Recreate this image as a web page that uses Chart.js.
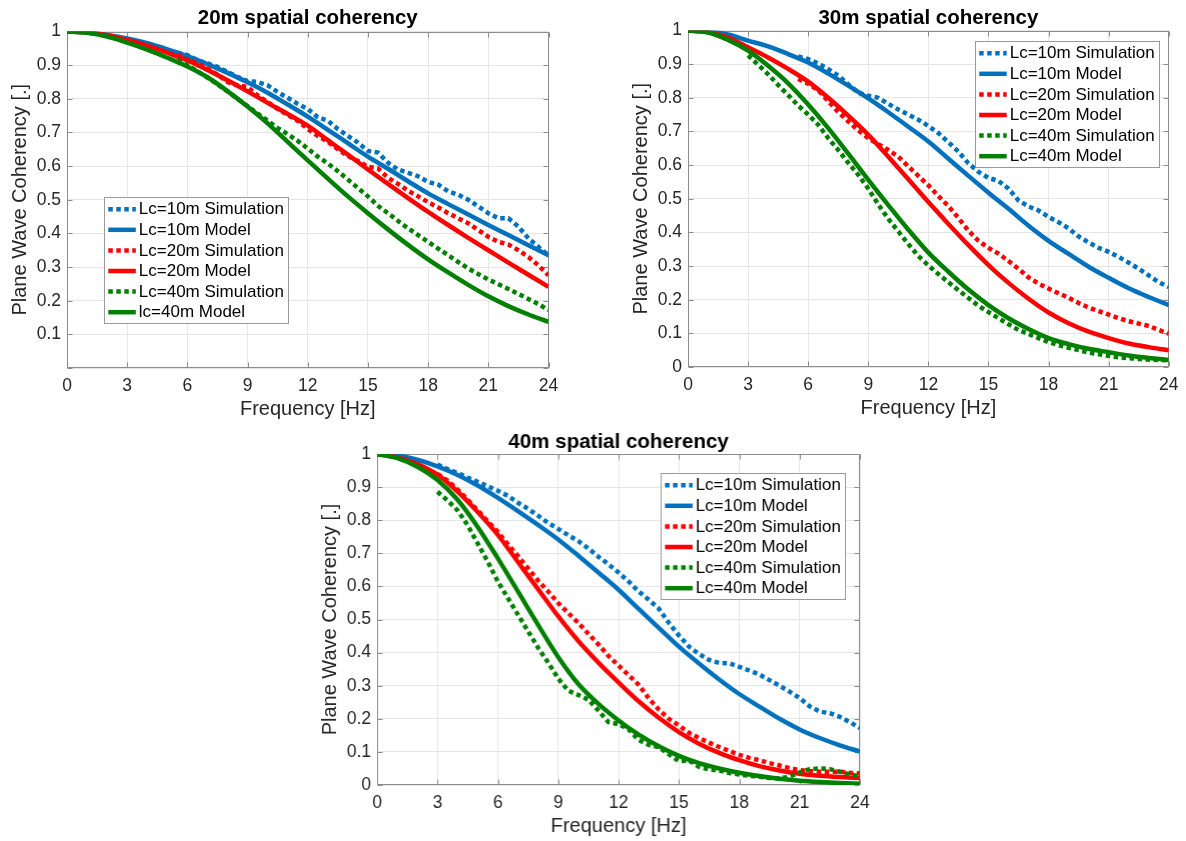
<!DOCTYPE html>
<html>
<head>
<meta charset="utf-8">
<script src="https://cdn.jsdelivr.net/npm/chart.js@4.4.1/dist/chart.umd.min.js"></script>
<style>
html,body{margin:0;padding:0;background:#fff;width:1186px;height:841px;overflow:hidden;position:relative}
canvas{position:absolute}
</style>
</head>
<body>
<canvas id="c20"></canvas>
<canvas id="c30"></canvas>
<canvas id="c40"></canvas>
<script>
// ---------- data ----------
const xTicks = [0,3,6,9,12,15,18,21,24];
const yTicks = [0,0.1,0.2,0.3,0.4,0.5,0.6,0.7,0.8,0.9,1];
const titles = ['20m spatial coherency','30m spatial coherency','40m spatial coherency'];
const xAxisTitle = 'Frequency [Hz]';
const yAxisTitle = 'Plane Wave Coherency [.]';
const seriesLabels = ['Lc=10m Simulation','Lc=10m Model','Lc=20m Simulation','Lc=20m Model','Lc=40m Simulation','Lc=40m Model'];
const seriesLabels20 = ['Lc=10m Simulation','Lc=10m Model','Lc=20m Simulation','Lc=20m Model','Lc=40m Simulation','lc=40m Model'];

const modelFreq = [0,1,2,3,4,5,6,7,8,9,10,11,12,13,14,15,16,17,18,19,20,21,22,23,24];
const simFreqFrom5 = [5.5,6,6.5,7,7.5,8,8.5,9,9.5,10,10.5,11,11.5,12,12.5,13,13.5,14,14.5,15,15.5,16,16.5,17,17.5,18,18.5,19,19.5,20,20.5,21,21.5,22,22.5,23,23.5,24];
const simFreqFrom3 = [3,3.5,4,4.5,5,5.5,6,6.5,7,7.5,8,8.5,9,9.5,10,10.5,11,11.5,12,12.5,13,13.5,14,14.5,15,15.5,16,16.5,17,17.5,18,18.5,19,19.5,20,20.5,21,21.5,22,22.5,23,23.5,24];

// 20m spatial coherency
const sim20_Lc10 = [0.937,0.93,0.915,0.905,0.895,0.88,0.865,0.853,0.85,0.84,0.82,0.803,0.785,0.77,0.745,0.735,0.71,0.69,0.67,0.645,0.64,0.61,0.59,0.58,0.57,0.553,0.545,0.525,0.515,0.5,0.48,0.46,0.445,0.445,0.42,0.385,0.36,0.335];
const model20_Lc10 = [1,0.997,0.99,0.979,0.965,0.947,0.927,0.903,0.877,0.849,0.818,0.783,0.747,0.708,0.668,0.628,0.592,0.555,0.519,0.487,0.456,0.425,0.395,0.365,0.335];
const sim20_Lc20 = [0.93,0.917,0.905,0.89,0.872,0.85,0.84,0.835,0.81,0.79,0.77,0.752,0.735,0.71,0.69,0.672,0.65,0.63,0.615,0.598,0.593,0.565,0.547,0.527,0.51,0.493,0.477,0.46,0.445,0.43,0.41,0.39,0.375,0.367,0.35,0.33,0.305,0.275];
const model20_Lc20 = [1,0.997,0.989,0.975,0.958,0.937,0.914,0.886,0.855,0.822,0.788,0.755,0.72,0.677,0.634,0.59,0.547,0.505,0.464,0.425,0.387,0.35,0.313,0.277,0.241];
const sim20_Lc40 = [0.915,0.9,0.882,0.863,0.843,0.822,0.8,0.778,0.756,0.735,0.713,0.695,0.675,0.652,0.628,0.608,0.585,0.56,0.535,0.51,0.482,0.46,0.437,0.415,0.395,0.375,0.355,0.335,0.315,0.296,0.279,0.263,0.249,0.235,0.22,0.205,0.19,0.172];
const model20_Lc40 = [1,0.996,0.985,0.967,0.946,0.922,0.896,0.864,0.823,0.777,0.727,0.672,0.617,0.563,0.51,0.46,0.412,0.366,0.323,0.284,0.247,0.213,0.184,0.159,0.137];

// 30m spatial coherency
const sim30_Lc10 = [0.923,0.915,0.902,0.885,0.866,0.84,0.815,0.806,0.8,0.782,0.765,0.75,0.735,0.716,0.695,0.668,0.64,0.605,0.58,0.562,0.553,0.53,0.495,0.477,0.465,0.446,0.43,0.412,0.388,0.37,0.354,0.342,0.327,0.31,0.292,0.272,0.252,0.238];
const model30_Lc10 = [1,0.997,0.988,0.97,0.953,0.93,0.905,0.872,0.836,0.798,0.757,0.714,0.67,0.619,0.568,0.518,0.47,0.42,0.375,0.336,0.298,0.265,0.234,0.208,0.184];
const sim30_Lc20 = [0.856,0.842,0.822,0.79,0.758,0.73,0.703,0.68,0.662,0.645,0.625,0.596,0.568,0.54,0.508,0.478,0.443,0.405,0.375,0.354,0.337,0.315,0.292,0.266,0.248,0.233,0.219,0.206,0.19,0.177,0.166,0.156,0.145,0.136,0.129,0.122,0.11,0.099];
const model30_Lc20 = [1,0.995,0.979,0.95,0.92,0.886,0.848,0.8,0.747,0.69,0.625,0.558,0.49,0.425,0.362,0.303,0.25,0.203,0.162,0.13,0.105,0.086,0.07,0.059,0.05];
const sim30_Lc40 = [0.926,0.898,0.87,0.838,0.808,0.777,0.75,0.72,0.68,0.645,0.607,0.571,0.53,0.483,0.44,0.403,0.365,0.33,0.302,0.276,0.252,0.228,0.205,0.182,0.163,0.145,0.127,0.11,0.098,0.086,0.074,0.065,0.057,0.05,0.043,0.038,0.033,0.029,0.026,0.024,0.022,0.021,0.02];
const model30_Lc40 = [1,0.994,0.972,0.94,0.895,0.843,0.78,0.71,0.634,0.556,0.481,0.408,0.34,0.283,0.23,0.184,0.145,0.113,0.086,0.068,0.054,0.044,0.034,0.027,0.021];

// 40m spatial coherency
const sim40_Lc10 = [0.968,0.955,0.943,0.929,0.916,0.903,0.889,0.874,0.853,0.835,0.814,0.792,0.774,0.755,0.737,0.715,0.69,0.667,0.642,0.615,0.585,0.56,0.533,0.49,0.452,0.418,0.396,0.378,0.369,0.368,0.357,0.346,0.334,0.317,0.3,0.282,0.263,0.238,0.222,0.217,0.206,0.19,0.172];
const model40_Lc10 = [1,0.996,0.983,0.963,0.937,0.905,0.868,0.828,0.786,0.742,0.693,0.642,0.59,0.532,0.475,0.418,0.367,0.319,0.275,0.237,0.2,0.168,0.142,0.12,0.101];
const sim40_Lc20 = [0.94,0.92,0.893,0.862,0.83,0.797,0.765,0.728,0.692,0.655,0.618,0.585,0.55,0.52,0.49,0.457,0.425,0.39,0.361,0.332,0.303,0.262,0.228,0.2,0.18,0.158,0.142,0.128,0.115,0.103,0.091,0.082,0.075,0.066,0.059,0.051,0.045,0.042,0.04,0.04,0.04,0.037,0.035];
const model40_Lc20 = [1,0.99,0.97,0.938,0.887,0.825,0.756,0.674,0.592,0.51,0.435,0.37,0.31,0.253,0.203,0.16,0.125,0.097,0.075,0.057,0.044,0.034,0.028,0.024,0.021];
const sim40_Lc40 = [0.886,0.86,0.83,0.785,0.73,0.675,0.615,0.565,0.515,0.465,0.415,0.37,0.322,0.285,0.272,0.258,0.225,0.19,0.184,0.168,0.136,0.121,0.114,0.093,0.072,0.074,0.055,0.047,0.044,0.036,0.032,0.028,0.025,0.021,0.02,0.025,0.038,0.048,0.05,0.048,0.04,0.032,0.025];
const model40_Lc40 = [1,0.988,0.962,0.922,0.862,0.78,0.685,0.585,0.484,0.387,0.305,0.245,0.195,0.152,0.117,0.088,0.066,0.05,0.037,0.027,0.019,0.013,0.009,0.006,0.004];

// ---------- styling / rendering ----------
const FF = "'Liberation Sans', Arial, Helvetica, sans-serif";
const seriesColors = ['#0072BD','#FF0000','#008000'];
const BOX = '#8c8c8c';
const LW = 4.5;
const DOT = [4.5, 3.5];

const framePlugin = {
  id: 'frame',
  beforeDatasetsDraw(chart) {
    const {ctx, chartArea: a, scales: {x, y}} = chart;
    ctx.save();
    ctx.strokeStyle = BOX; ctx.lineWidth = 1;
    const L = Math.round(a.left) + 0.5, T = Math.round(a.top) + 0.5;
    const R = Math.round(a.right) - 0.5, B = Math.round(a.bottom) - 0.5;
    ctx.strokeRect(L, T, R - L, B - T);
    ctx.beginPath();
    const tl = 5;
    xTicks.forEach(v => {
      const px = Math.round(x.getPixelForValue(v)) + 0.5;
      ctx.moveTo(px, B); ctx.lineTo(px, B - tl);
      ctx.moveTo(px, T); ctx.lineTo(px, T + tl);
    });
    yTicks.forEach(v => {
      const py = Math.round(y.getPixelForValue(v)) + 0.5;
      ctx.moveTo(L, py); ctx.lineTo(L + tl, py);
      ctx.moveTo(R, py); ctx.lineTo(R - tl, py);
    });
    ctx.stroke();
    ctx.restore();
  }
};

const boxLegendPlugin = {
  id: 'boxLegend',
  afterDraw(chart, args, o) {
    const ctx = chart.ctx;
    ctx.save();
    ctx.fillStyle = '#fff';
    ctx.fillRect(o.x, o.y, o.w, o.h);
    ctx.strokeStyle = '#9a9a9a'; ctx.lineWidth = 1;
    ctx.strokeRect(Math.round(o.x) + 0.5, Math.round(o.y) + 0.5, Math.round(o.w), Math.round(o.h));
    chart.data.datasets.forEach((ds, i) => {
      const cy = o.y + 12.5 + i * 20.6;
      ctx.strokeStyle = ds.borderColor;
      ctx.lineWidth = LW;
      ctx.lineCap = 'butt';
      ctx.setLineDash(ds.borderDash || []);
      ctx.beginPath();
      ctx.moveTo(o.x + 4, cy); ctx.lineTo(o.x + 31.5, cy);
      ctx.stroke();
      ctx.setLineDash([]);
      ctx.fillStyle = '#000';
      ctx.font = '17px ' + FF;
      ctx.textBaseline = 'middle';
      ctx.textAlign = 'left';
      ctx.fillText(ds.label, o.x + 34.5, cy + 0.5);
    });
    ctx.restore();
  }
};

function pts(xs, ys) { return ys.map((v, i) => ({x: xs[i], y: v})); }

function build(id, geo, title, labels, series, legendPos, hideZero) {
  const cv = document.getElementById(id);
  const cl = geo.left - 67;
  const ct = geo.canvasTop;
  const cw = geo.right + geo.padR - cl;
  const ch = geo.bottom - ct + 57;
  cv.width = cw; cv.height = ch;
  cv.style.left = cl + 'px'; cv.style.top = ct + 'px';
  cv.style.width = cw + 'px'; cv.style.height = ch + 'px';
  const tLine = 23;
  const tTop = Math.max(0, geo.titleY - ct - tLine / 2);
  const tBot = Math.max(0, geo.top - ct - tLine - tTop);

  const datasets = series.map((s, i) => ({
    label: labels[i],
    data: pts(s.x, s.y),
    borderColor: seriesColors[i >> 1],
    backgroundColor: seriesColors[i >> 1],
    borderWidth: LW,
    borderDash: i % 2 === 0 ? DOT : [],
    borderCapStyle: 'butt',
    borderJoinStyle: i % 2 === 0 ? 'miter' : 'round',
    pointRadius: 0,
    pointHoverRadius: 0,
    fill: false,
    tension: 0,
    cubicInterpolationMode: i % 2 === 1 ? 'monotone' : 'default',
    order: 6 - i,
    clip: 0
  }));

  return new Chart(cv, {
    type: 'line',
    data: {datasets},
    options: {
      responsive: false,
      animation: false,
      devicePixelRatio: 1,
      events: [],
      layout: {padding: {left: 0, top: 0, right: geo.padR, bottom: 0}},
      plugins: {
        legend: {display: false},
        tooltip: {enabled: false},
        title: {
          display: true, text: title, color: '#000', fullSize: false,
          font: {family: FF, size: 20.5, weight: 'bold', lineHeight: tLine / 20.5},
          padding: {top: tTop, bottom: tBot}
        },
        boxLegend: {x: legendPos.x - cl, y: legendPos.y - ct, w: 184, h: 126}
      },
      scales: {
        x: {
          type: 'linear', position: 'bottom', min: 0, max: 24,
          afterBuildTicks: s => { s.ticks = xTicks.map(v => ({value: v})); },
          afterFit: s => { s.height = 57; },
          ticks: {
            padding: 7.5, color: '#262626', autoSkip: false, maxRotation: 0,
            font: {family: FF, size: 17.5},
            callback: v => String(v)
          },
          grid: {color: '#e6e6e6', lineWidth: 1, drawTicks: false},
          border: {display: false},
          title: {
            display: true, text: xAxisTitle, color: '#262626',
            font: {family: FF, size: 20, lineHeight: 1.2},
            padding: {top: 0, bottom: 3.5}
          }
        },
        y: {
          type: 'linear', position: 'left', min: 0, max: 1,
          afterBuildTicks: s => { s.ticks = yTicks.map(v => ({value: v})); },
          afterFit: s => { s.width = 67; },
          ticks: {
            padding: 6, color: '#262626', autoSkip: false,
            font: {family: FF, size: 17.5},
            callback: v => {
              if (Math.abs(v) < 1e-9) return hideZero ? '' : '0';
              if (Math.abs(v - 1) < 1e-9) return '1';
              return v.toFixed(1);
            }
          },
          grid: {color: '#e6e6e6', lineWidth: 1, drawTicks: false},
          border: {display: false},
          title: {
            display: true, text: yAxisTitle, color: '#262626',
            font: {family: FF, size: 20, lineHeight: 1.2},
            padding: {top: 8.5, bottom: 0}
          }
        }
      }
    },
    plugins: [framePlugin, boxLegendPlugin]
  });
}

build('c20',
  {left: 67, top: 31.5, right: 548.5, bottom: 368, padR: 41.5, canvasTop: 0, titleY: 18.3},
  titles[0], seriesLabels20,
  [
    {x: simFreqFrom5, y: sim20_Lc10}, {x: modelFreq, y: model20_Lc10},
    {x: simFreqFrom5, y: sim20_Lc20}, {x: modelFreq, y: model20_Lc20},
    {x: simFreqFrom5, y: sim20_Lc40}, {x: modelFreq, y: model20_Lc40}
  ],
  {x: 104.3, y: 196.7}, true);

build('c30',
  {left: 687.5, top: 30.5, right: 1170, bottom: 367, padR: 16, canvasTop: 0, titleY: 18.7},
  titles[1], seriesLabels,
  [
    {x: simFreqFrom5, y: sim30_Lc10}, {x: modelFreq, y: model30_Lc10},
    {x: simFreqFrom5, y: sim30_Lc20}, {x: modelFreq, y: model30_Lc20},
    {x: simFreqFrom3, y: sim30_Lc40}, {x: modelFreq, y: model30_Lc40}
  ],
  {x: 974.7, y: 40.7}, false);

build('c40',
  {left: 377.3, top: 454, right: 860, bottom: 785, padR: 40, canvasTop: 420, titleY: 442.6},
  titles[2], seriesLabels,
  [
    {x: simFreqFrom3, y: sim40_Lc10}, {x: modelFreq, y: model40_Lc10},
    {x: simFreqFrom3, y: sim40_Lc20}, {x: modelFreq, y: model40_Lc20},
    {x: simFreqFrom3, y: sim40_Lc40}, {x: modelFreq, y: model40_Lc40}
  ],
  {x: 660.7, y: 472.7}, false);
</script>
</body>
</html>
